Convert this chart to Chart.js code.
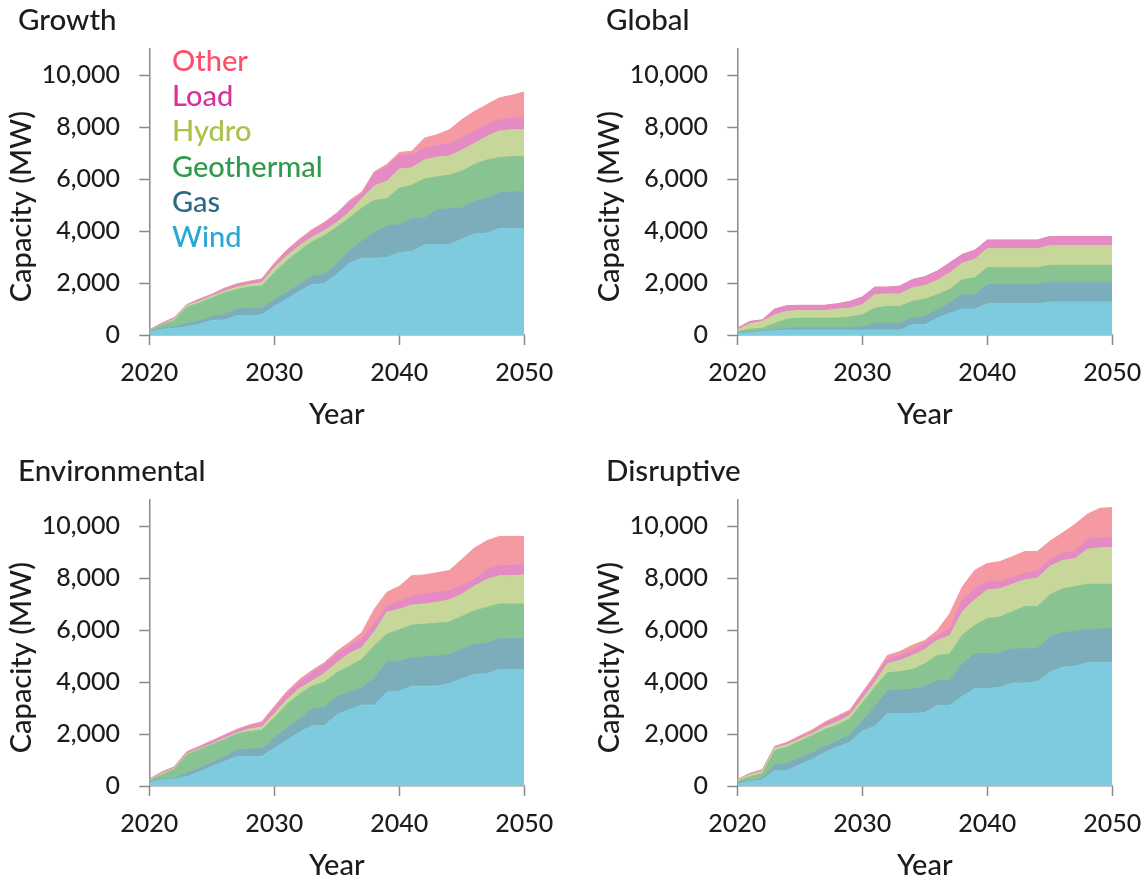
<!DOCTYPE html>
<html>
<head>
<meta charset="utf-8">
<title>Installed capacity by scenario</title>
<script src="https://cdn.jsdelivr.net/npm/chart.js@4.4.1/dist/chart.umd.min.js"></script>
<style>
  html, body { margin: 0; padding: 0; background: #ffffff; }
  body { width: 1148px; height: 883px; position: relative; overflow: hidden; }
  .panel { position: absolute; width: 560px; height: 432px; }
  .panel canvas { display: block; }
</style>
</head>
<body>
<div class="panel" style="left:0px;top:0px"><canvas id="growth" width="560" height="432"></canvas></div>
<div class="panel" style="left:588px;top:0px"><canvas id="global" width="560" height="432"></canvas></div>
<div class="panel" style="left:0px;top:451px"><canvas id="environmental" width="560" height="432"></canvas></div>
<div class="panel" style="left:588px;top:451px"><canvas id="disruptive" width="560" height="432"></canvas></div>

<script>
// ---- data (MW of installed capacity per source, one value per year) ----
const years = [2020, 2021, 2022, 2023, 2024, 2025, 2026, 2027, 2028, 2029, 2030,
               2031, 2032, 2033, 2034, 2035, 2036, 2037, 2038, 2039, 2040,
               2041, 2042, 2043, 2044, 2045, 2046, 2047, 2048, 2049, 2050];
const xTicks = [2020, 2030, 2040, 2050];
const yTicks = [0, 2000, 4000, 6000, 8000, 10000];
const yMax = 11000;

const sources = ['Wind', 'Gas', 'Geothermal', 'Hydro', 'Load', 'Other'];
const fillColors = ['#7ecbdf', '#7badba', '#88c491', '#c7d79a', '#e38bc2', '#f59aa3'];
const labelColors = ['#27a8d6', '#2a6a86', '#2e9a4c', '#a9c24a', '#d8309c', '#ff4d6a'];

// Growth
const growthWind       = [100, 220, 260, 320, 410, 560, 580, 740, 740, 780, 1100, 1380, 1680, 1940, 1970, 2330, 2760, 2950, 2950, 2980, 3170, 3210, 3470, 3470, 3470, 3690, 3880, 3920, 4100, 4100, 4100];
const growthGas        = [30, 40, 60, 110, 130, 150, 200, 260, 290, 250, 260, 260, 260, 320, 360, 390, 470, 670, 1000, 1220, 1070, 1280, 1020, 1350, 1380, 1190, 1260, 1350, 1370, 1400, 1400];
const growthGeothermal = [20, 130, 240, 640, 690, 710, 840, 750, 820, 850, 1030, 1210, 1290, 1320, 1490, 1420, 1260, 1260, 1230, 1040, 1410, 1270, 1510, 1260, 1300, 1420, 1420, 1460, 1360, 1360, 1360];
const growthHydro      = [20, 20, 50, 60, 60, 70, 60, 90, 90, 130, 200, 190, 200, 170, 190, 190, 230, 360, 550, 670, 730, 670, 730, 760, 730, 810, 810, 900, 1020, 1030, 1030];
const growthLoad       = [20, 40, 40, 30, 70, 60, 90, 100, 100, 120, 130, 190, 190, 260, 290, 330, 390, 190, 480, 560, 540, 490, 450, 440, 490, 460, 460, 460, 430, 450, 480];
const growthOther      = [0, 10, 20, 10, 20, 20, 30, 30, 30, 30, 40, 40, 60, 40, 30, 30, 60, 70, 70, 90, 100, 150, 390, 420, 520, 710, 770, 770, 840, 880, 980];

// Global
const globalWind       = [65, 90, 130, 170, 190, 190, 190, 190, 190, 190, 190, 190, 190, 190, 390, 390, 650, 840, 1000, 1000, 1200, 1200, 1200, 1200, 1200, 1270, 1270, 1270, 1270, 1270, 1270];
const globalGas        = [25, 20, 40, 50, 70, 90, 90, 90, 90, 90, 130, 260, 260, 260, 260, 320, 320, 390, 550, 550, 740, 740, 740, 740, 740, 760, 760, 760, 760, 760, 760];
const globalGeothermal = [40, 110, 90, 230, 350, 370, 370, 370, 370, 410, 460, 580, 650, 650, 640, 670, 580, 520, 580, 650, 650, 650, 650, 650, 650, 650, 650, 650, 650, 650, 650];
const globalHydro      = [60, 210, 260, 330, 300, 290, 290, 290, 350, 340, 380, 520, 480, 480, 520, 520, 550, 640, 630, 710, 730, 730, 730, 730, 730, 750, 750, 750, 750, 750, 750];
const globalLoad       = [70, 90, 60, 220, 220, 200, 200, 200, 200, 260, 300, 290, 260, 300, 320, 340, 360, 390, 340, 350, 330, 330, 330, 330, 330, 360, 360, 360, 360, 360, 360];
const globalOther      = [0, 0, 0, 0, 0, 0, 0, 0, 0, 0, 0, 0, 0, 0, 0, 0, 0, 0, 0, 0, 0, 0, 0, 0, 0, 0, 0, 0, 0, 0, 0];

// Environmental
const envWind       = [130, 230, 260, 360, 550, 750, 940, 1130, 1130, 1130, 1460, 1750, 2060, 2320, 2320, 2740, 2940, 3110, 3110, 3610, 3650, 3840, 3840, 3840, 3940, 4120, 4290, 4320, 4480, 4480, 4480];
const envGas        = [40, 30, 40, 130, 130, 150, 170, 260, 290, 290, 380, 480, 490, 660, 720, 690, 670, 670, 1050, 1160, 1160, 1090, 1120, 1160, 1120, 1140, 1160, 1160, 1190, 1190, 1190];
const envGeothermal = [40, 170, 340, 710, 710, 690, 670, 610, 680, 720, 780, 900, 970, 860, 950, 930, 1000, 1090, 1230, 1070, 1200, 1260, 1260, 1260, 1250, 1260, 1290, 1390, 1330, 1330, 1330];
const envHydro      = [20, 40, 40, 40, 30, 30, 60, 40, 90, 130, 160, 190, 230, 190, 340, 380, 490, 450, 540, 840, 790, 770, 780, 800, 850, 860, 940, 1070, 1090, 1090, 1120];
const envLoad       = [30, 50, 40, 50, 70, 90, 90, 100, 130, 150, 220, 220, 240, 320, 350, 320, 290, 350, 330, 250, 290, 330, 380, 390, 350, 330, 280, 380, 390, 390, 420];
const envOther      = [0, 20, 20, 30, 40, 30, 30, 40, 30, 50, 60, 90, 100, 90, 60, 120, 130, 230, 540, 520, 590, 800, 740, 750, 780, 1000, 1190, 1110, 1120, 1120, 1060];

// Disruptive
const disWind       = [80, 170, 230, 600, 600, 820, 1030, 1290, 1500, 1680, 2110, 2300, 2790, 2790, 2790, 2820, 3100, 3100, 3440, 3750, 3750, 3790, 3960, 3960, 4010, 4370, 4570, 4610, 4740, 4740, 4740];
const disGas        = [20, 40, 70, 220, 280, 260, 240, 240, 220, 300, 390, 750, 870, 910, 930, 1010, 950, 950, 1260, 1330, 1330, 1330, 1320, 1320, 1270, 1370, 1330, 1340, 1280, 1300, 1300];
const disGeothermal = [70, 150, 170, 550, 620, 640, 670, 640, 610, 610, 680, 740, 690, 700, 760, 870, 970, 1030, 1100, 1100, 1360, 1380, 1420, 1620, 1620, 1610, 1680, 1720, 1740, 1720, 1720];
const disHydro      = [40, 70, 90, 90, 90, 90, 80, 110, 130, 130, 170, 190, 350, 430, 540, 550, 580, 710, 900, 980, 1100, 1090, 1060, 1030, 1090, 1100, 1090, 1070, 1340, 1400, 1400];
const disLoad       = [20, 40, 40, 40, 70, 80, 90, 130, 170, 130, 180, 200, 190, 190, 190, 220, 190, 260, 460, 430, 330, 280, 260, 250, 280, 250, 290, 290, 390, 390, 390];
const disOther      = [10, 20, 30, 30, 20, 40, 50, 50, 60, 70, 70, 90, 130, 150, 200, 130, 190, 580, 500, 710, 690, 760, 800, 840, 750, 710, 770, 1030, 960, 1130, 1160];

// ---- drawing ----
const FONT_FAMILY = 'Lato, "DejaVu Sans", sans-serif';
Chart.defaults.font.family = FONT_FAMILY;
Chart.defaults.font.weight = '500';
Chart.defaults.color = '#1c1c1c';

const AXIS_GREY = '#8a8a8a';
const TEXT_DARK = '#1c1c1c';
const PLOT_LEFT = 149.3;   // x of the value axis inside each panel
const PAD_LEFT = 18;
const PAD_RIGHT = 35.7;
const X_AXIS_HEIGHT = 97;

// Stacked source names drawn inside the first panel, top entry = last dataset
const sourceLegend = {
  id: 'sourceLegend',
  afterDraw(chart, args, opts) {
    if (!opts.show) return;
    const ctx = chart.ctx;
    const sets = chart.data.datasets;
    ctx.save();
    ctx.font = '500 29px ' + FONT_FAMILY;
    ctx.textAlign = 'left';
    ctx.textBaseline = 'alphabetic';
    for (let i = sets.length - 1, row = 0; i >= 0; i--, row++) {
      ctx.fillStyle = labelColors[i];
      ctx.fillText(sets[i].label, opts.x, opts.y + row * opts.step);
    }
    ctx.restore();
  }
};

function buildPanel(canvasId, title, series, showLegend) {
  const datasets = series.map((values, i) => ({
    label: sources[i],
    data: values.map((v, k) => ({ x: years[k], y: v })),
    backgroundColor: fillColors[i],
    borderColor: fillColors[i],
    borderWidth: 1,
    pointRadius: 0,
    pointHoverRadius: 0,
    tension: 0,
    fill: i === 0 ? 'origin' : '-1'
  }));

  return new Chart(document.getElementById(canvasId), {
    type: 'line',
    data: { datasets },
    options: {
      responsive: false,
      animation: false,
      devicePixelRatio: 1,
      events: [],
      layout: { padding: { left: PAD_LEFT, right: PAD_RIGHT, top: 0, bottom: 0 } },
      plugins: {
        legend: { display: false },
        tooltip: { enabled: false },
        title: {
          display: true,
          text: title,
          align: 'start',
          color: TEXT_DARK,
          font: { size: 29.5, weight: '500' },
          padding: { top: 2.9, bottom: 10.7 }
        },
        sourceLegend: { show: showLegend, x: 172, y: 71, step: 35.2 }
      },
      scales: {
        x: {
          type: 'linear',
          min: years[0],
          max: years[years.length - 1],
          afterBuildTicks: (scale) => { scale.ticks = xTicks.map(v => ({ value: v })); },
          afterFit: (scale) => { scale.height = X_AXIS_HEIGHT; },
          border: { display: true, color: AXIS_GREY, width: 1.5 },
          grid: { display: true, drawOnChartArea: false, drawTicks: true, tickLength: 10, tickColor: AXIS_GREY, tickWidth: 1.5 },
          ticks: {
            padding: 0,
            maxRotation: 0,
            autoSkip: false,
            color: TEXT_DARK,
            font: { size: 25, lineHeight: 2.26 },
            callback: (v) => String(v)
          },
          title: {
            display: true,
            text: 'Year',
            color: TEXT_DARK,
            font: { size: 29, weight: '500' },
            padding: { top: 0, bottom: -0.2 }
          }
        },
        y: {
          stacked: true,
          min: 0,
          max: yMax,
          afterBuildTicks: (scale) => { scale.ticks = yTicks.map(v => ({ value: v })); },
          afterFit: (scale) => { scale.width = PLOT_LEFT - PAD_LEFT; },
          border: { display: true, color: AXIS_GREY, width: 1.5 },
          grid: { display: true, drawOnChartArea: false, drawTicks: true, tickLength: 10, tickColor: AXIS_GREY, tickWidth: 1.5 },
          ticks: {
            padding: 19.3,
            color: TEXT_DARK,
            font: { size: 25 },
            callback: (v) => Number(v).toLocaleString('en-US')
          },
          title: {
            display: true,
            text: 'Capacity (MW)    ',
            color: TEXT_DARK,
            font: { size: 29, weight: '500' },
            padding: { top: -13.6, bottom: 0 }
          }
        }
      }
    },
    plugins: [sourceLegend]
  });
}

buildPanel('growth', 'Growth',
  [growthWind, growthGas, growthGeothermal, growthHydro, growthLoad, growthOther], true);
buildPanel('global', 'Global',
  [globalWind, globalGas, globalGeothermal, globalHydro, globalLoad, globalOther], false);
buildPanel('environmental', 'Environmental',
  [envWind, envGas, envGeothermal, envHydro, envLoad, envOther], false);
buildPanel('disruptive', 'Disruptive',
  [disWind, disGas, disGeothermal, disHydro, disLoad, disOther], false);
</script>
</body>
</html>
